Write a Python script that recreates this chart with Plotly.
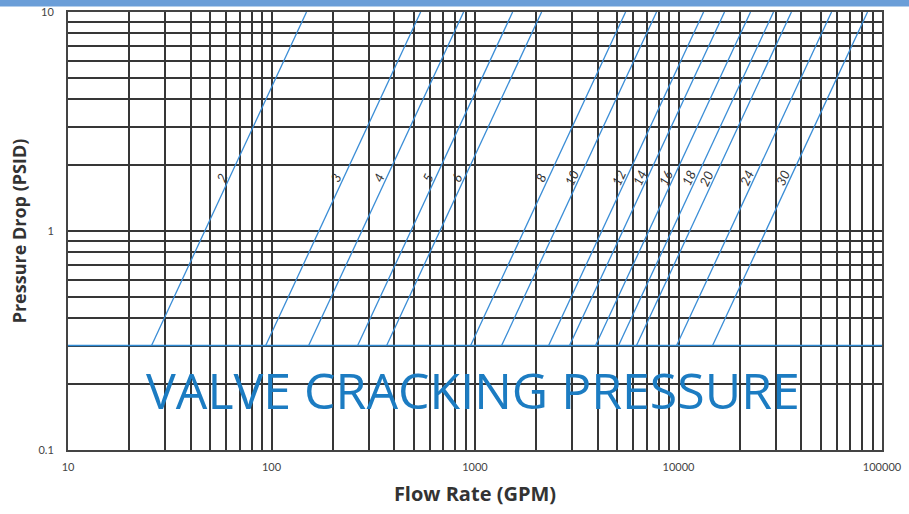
import math
import plotly.graph_objects as go

# ---- data ----
valve_sizes = ["2", "3", "4", "5", "6", "8", "10", "12", "14", "16", "18", "20", "24", "30"]
# flow (GPM) at which each valve size reaches 1 PSID pressure drop
flow_at_1psid = [47, 171, 278, 484, 672, 1738, 2467, 4200, 5322, 7144, 9266, 11350, 17870, 26850]
cracking_pressure = 0.3          # PSID
max_pressure = 10                # PSID, top of chart
label_pressure = 1.75            # PSID where the size labels sit

x_range = [10, 100000]
y_range = [0.1, 10]
x_decades = [10, 100, 1000, 10000, 100000]
x_tick_labels = ["10", "100", "1000", "10000", "100000"]
y_decades = [0.1, 1, 10]
y_tick_labels = ["0.1", "1", "10"]

BLUE = "#3a8dd6"
TEXT_BLUE = "#1c7cc2"
GRID = "#363636"
FONT = "Lato, 'Open Sans', sans-serif"
TITLE_FONT = "'Open Sans', Lato, sans-serif"

fig = go.Figure()

# cracking pressure line
fig.add_trace(go.Scatter(x=x_range, y=[cracking_pressure, cracking_pressure], mode="lines",
                         line=dict(color="#2f8bd5", width=1.6), hoverinfo="skip", showlegend=False))

# valve curves: dP = (Q / Q1)^2  ->  Q = Q1 * sqrt(dP)
pressures = [cracking_pressure, max_pressure]
for size, q1 in zip(valve_sizes, flow_at_1psid):
    fig.add_trace(go.Scatter(x=[q1 * math.sqrt(p) for p in pressures], y=pressures, mode="lines",
                             line=dict(color=BLUE, width=1.3), name=size, showlegend=False))
    fig.add_annotation(x=math.log10(q1 * math.sqrt(label_pressure)), y=math.log10(label_pressure),
                       xref="x", yref="y", text=size, showarrow=False, textangle=-65, xshift=-8,
                       font=dict(family=FONT, size=13, color="#333333", style="italic"))


def decade_vals(lo, hi):
    vals = []
    d = lo
    while d < hi * 0.999:
        for m in range(1, 10):
            vals.append(round(m * d, 10))
        d *= 10
    vals.append(hi)
    return vals


def labels_for(vals, decades, texts):
    out = []
    for v in vals:
        lab = ""
        for dv, t in zip(decades, texts):
            if abs(v - dv) < 1e-9 * dv:
                lab = t
        out.append(lab)
    return out


xvals = decade_vals(x_range[0], x_range[1])
yvals = decade_vals(y_range[0], y_range[1])
xtext = labels_for(xvals, x_decades, x_tick_labels)
ytext = labels_for(yvals, y_decades, y_tick_labels)

fig.add_annotation(x=0.497, y=0.138, xref="paper", yref="paper", xanchor="center", yanchor="middle",
                   text="VALVE CRACKING PRESSURE", showarrow=False,
                   font=dict(family=TITLE_FONT, size=50, color=TEXT_BLUE))

# top blue strip
fig.add_shape(type="rect", xref="paper", yref="paper", x0=-0.1, x1=1.1, y0=1.0125, y1=1.04,
              fillcolor="#6b9ed8", line=dict(width=0), layer="above")

fig.update_layout(
    width=909, height=514,
    margin=dict(l=68, r=27, t=12, b=64, autoexpand=False),
    paper_bgcolor="white", plot_bgcolor="white",
    font=dict(family=FONT, color="#333333"),
    xaxis=dict(type="log", range=[math.log10(x_range[0]), math.log10(x_range[1])],
               tickmode="array", tickvals=xvals, ticktext=xtext,
               showgrid=True, gridcolor=GRID, gridwidth=1.5,
               showline=True, mirror=True, linecolor="#444444", linewidth=2,
               ticks="outside", ticklen=6, tickcolor="rgba(0,0,0,0)",
               tickfont=dict(size=11, color="#444444"),
               title=dict(text="<b>Flow Rate (GPM)</b>", font=dict(family=TITLE_FONT, size=20, color="#333333"), standoff=15),
               zeroline=False),
    yaxis=dict(type="log", range=[math.log10(y_range[0]), math.log10(y_range[1])],
               tickmode="array", tickvals=yvals, ticktext=ytext,
               showgrid=True, gridcolor=GRID, gridwidth=1.5,
               showline=True, mirror=True, linecolor="#444444", linewidth=2,
               ticks="outside", ticklen=10, tickcolor="rgba(0,0,0,0)",
               tickfont=dict(size=11, color="#444444"),
               title=dict(text="<b>Pressure Drop (PSID)</b>", font=dict(family=TITLE_FONT, size=18, color="#333333"), standoff=7),
               zeroline=False),
)

fig.write_html("out.html", config={"displayModeBar": False},
               post_script="document.body.style.margin='0';document.body.style.overflow='hidden';")
